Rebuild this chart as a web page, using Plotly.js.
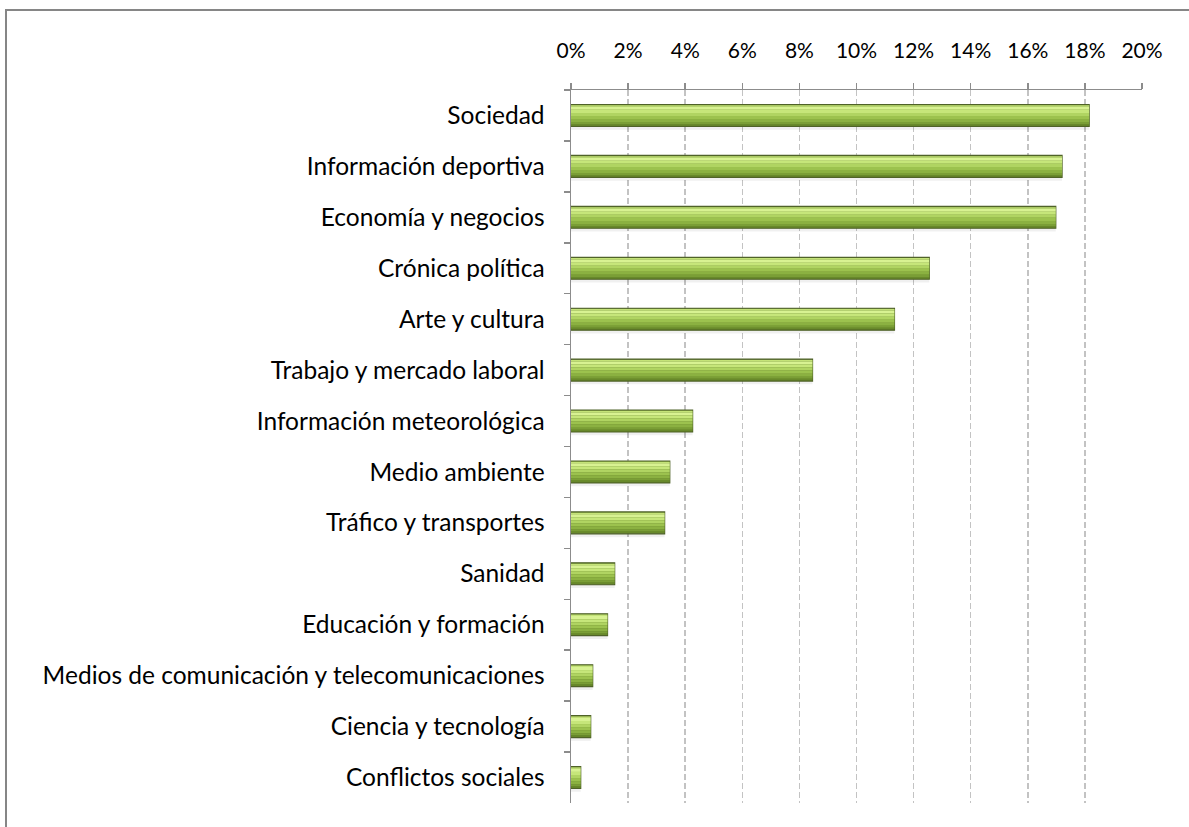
<!DOCTYPE html>
<html>
<head>
<meta charset="utf-8">
<script src="https://cdn.plot.ly/plotly-3.0.1.min.js"></script>
<style>html,body{margin:0;padding:0;background:#fff;}#chart{width:1189px;height:827px;}</style>
</head>
<body>
<div id="chart"></div>
<script>
const categories = [
  "Sociedad",
  "Información deportiva",
  "Economía y negocios",
  "Crónica política",
  "Arte y cultura",
  "Trabajo y mercado laboral",
  "Información meteorológica",
  "Medio ambiente",
  "Tráfico y transportes",
  "Sanidad",
  "Educación y formación",
  "Medios de comunicación y telecomunicaciones",
  "Ciencia y tecnología",
  "Conflictos sociales"
];
const values = [0.1815, 0.172, 0.1698, 0.1255, 0.1133, 0.0846, 0.0426, 0.0346, 0.0328, 0.0153, 0.0128, 0.0076, 0.0069, 0.0034];
const tickVals = [0, 0.02, 0.04, 0.06, 0.08, 0.10, 0.12, 0.14, 0.16, 0.18, 0.20];

function layer(offset, width, color, line) {
  return {
    type: 'bar', orientation: 'h', y: categories, x: values,
    offset: offset, width: width,
    marker: {color: color, line: line || {width: 0}},
    hoverinfo: 'skip', showlegend: false
  };
}

// gradient bands (style only): [offset, width, colour]
const bands = [
  [-0.200, 0.030, '#C4E378'],
  [-0.170, 0.060, '#D8F292'],
  [-0.110, 0.060, '#C6E67A'],
  [-0.050, 0.060, '#B0D462'],
  [ 0.010, 0.060, '#9CC24E'],
  [ 0.070, 0.060, '#8BB141'],
  [ 0.130, 0.040, '#7A9E36'],
  [ 0.170, 0.030, '#68892B']
];

const traces = [
  layer(-0.18, 0.46, 'rgba(0,0,0,0.06)'),
  layer(-0.215, 0.43, '#5E7A25', {color: '#4F6228', width: 1.2})
].concat(bands.map(b => layer(b[0], b[1], b[2])));

const layout = {
  width: 1189, height: 827,
  margin: {l: 571, r: 47, t: 90, b: 24},
  paper_bgcolor: '#ffffff', plot_bgcolor: '#ffffff',
  barmode: 'overlay',
  font: {family: 'Lato, "Open Sans", sans-serif', size: 24, color: '#000'},
  xaxis: {
    side: 'top', range: [0, 0.20], tickvals: tickVals, tickformat: '.0%',
    showgrid: true, gridcolor: '#C3C3C3', griddash: '6px,3px', gridwidth: 1.5,
    showline: true, linecolor: '#8C8C8C', linewidth: 1.5,
    ticks: 'outside', ticklen: 6, tickcolor: '#8C8C8C', tickwidth: 1.5,
    ticklabelstandoff: 16,
    zeroline: false, fixedrange: true,
    tickfont: {size: 21}
  },
  yaxis: {
    type: 'category', autorange: 'reversed',
    showline: true, linecolor: '#8C8C8C', linewidth: 1.5,
    ticks: 'outside', tickson: 'boundaries', ticklen: 6, tickcolor: '#8C8C8C', tickwidth: 1.5,
    ticklabelstandoff: 20,
    showgrid: false, fixedrange: true,
    tickfont: {size: 24.5}
  },
  shapes: [{
    type: 'rect', xref: 'paper', yref: 'paper',
    x0: (6 - 571) / 571, x1: 1.2, y0: -0.2, y1: (803 - 10) / 713,
    line: {color: '#868686', width: 2}, fillcolor: 'rgba(0,0,0,0)', layer: 'below'
  }]
};

Plotly.newPlot('chart', traces, layout, {staticPlot: true, displayModeBar: false});
</script>
</body>
</html>
